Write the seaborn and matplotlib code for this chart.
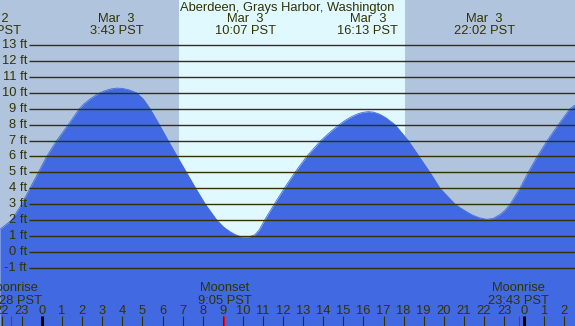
import matplotlib
matplotlib.use('Agg')
import matplotlib.pyplot as plt
import seaborn as sns
import pandas as pd

# tide height (ft), hours from midnight Mar 3
hours = [-2.09, -1.51, -1.01, -0.60, -0.18, 0.23, 0.73, 1.31, 1.86, 2.10,
         2.40, 2.70, 2.89, 3.10, 3.40, 3.72, 4.00, 4.30, 4.50, 4.71,
         5.05, 5.38, 5.84, 6.28, 6.73, 7.19, 7.65, 8.13, 8.70, 9.05,
         9.36, 9.60, 9.85, 10.10, 10.35, 10.60, 10.82, 11.08, 11.56, 12.06,
         12.59, 13.17, 13.88, 14.40, 14.80, 15.08, 15.40, 15.75, 16.00, 16.24,
         16.50, 16.80, 17.10, 17.57, 18.23, 18.77, 19.31, 19.81, 20.56, 20.81,
         21.10, 21.40, 21.75, 22.13, 22.45, 22.80, 23.05, 23.30, 23.79, 24.20,
         24.65, 25.15, 25.70, 26.28, 26.53]
tide_ft = [1.42, 2.0, 3.0, 4.0, 5.0, 6.0, 7.0, 8.0, 9.0, 9.32,
           9.62, 9.87, 10.0, 10.12, 10.24, 10.3, 10.28, 10.2, 10.11, 10.0,
           9.6, 9.0, 8.0, 7.0, 6.0, 5.0, 4.0, 3.0, 2.0, 1.55,
           1.27, 1.1, 0.97, 0.92, 0.96, 1.08, 1.4, 2.0, 3.0, 4.0,
           5.0, 6.0, 7.0, 7.6, 8.0, 8.26, 8.5, 8.7, 8.78, 8.82,
           8.79, 8.66, 8.45, 8.0, 7.0, 6.0, 5.0, 4.0, 3.0, 2.78,
           2.55, 2.33, 2.15, 2.05, 2.1, 2.35, 2.62, 3.0, 4.0, 5.0,
           6.0, 7.0, 8.0, 9.0, 9.24]

extreme_hours = [-2.58, 3.72, 10.12, 16.22, 22.03]
extreme_dates = ['Mar  2', 'Mar  3', 'Mar  3', 'Mar  3', 'Mar  3']
extreme_times = ['21:25 PST', '3:43 PST', '10:07 PST', '16:13 PST', '22:02 PST']

moon_hours = [-1.53, 9.08, 23.72]
moon_events = ['Moonrise', 'Moonset', 'Moonrise']
moon_times = ['22:28 PST', '9:05 PST', '23:43 PST']

sunrise_hour = 6.82
sunset_hour = 18.07

ft_levels = list(range(-1, 14))
hour_ticks = list(range(-2, 27))

title = 'Aberdeen, Grays Harbor, Washington'

W, H = 575, 326
x_min, x_max = -2.09, 26.53
y_min, y_max = -4.66, 15.84

night_color = '#b0c4de'
day_color = '#e0f8ff'
water_color = '#4169e1'
ink = '#333300'
fs = 9.3

sns.set_style('white')
plt.rcParams['font.family'] = ['Liberation Sans', 'DejaVu Sans']

df = pd.DataFrame({'hour': hours, 'ft': tide_ft})

fig = plt.figure(figsize=(W / 100, H / 100), dpi=100)
ax = fig.add_axes([0, 0, 1, 1])
ax.set_facecolor(night_color)
ax.axvspan(sunrise_hour, sunset_hour, color=day_color, lw=0, zorder=0)

ax.fill_between(df['hour'], df['ft'], y_min, color=water_color, lw=0, zorder=1)
sns.lineplot(data=df, x='hour', y='ft', color=water_color, lw=0.6, ax=ax, zorder=2)

# horizontal ft lines + labels
x_line_start = x_min + 29 / W * (x_max - x_min)
ax.hlines(ft_levels, x_line_start, x_max, color=ink, lw=1.0, zorder=3)
for lev in ft_levels:
    ax.text(27 / W, lev, f'{lev} ft', transform=ax.get_yaxis_transform(),
            ha='right', va='center', fontsize=fs, color=ink, zorder=4)

def fy(ypix):
    return 1 - ypix / H

xt = ax.get_xaxis_transform()
ax.text(0.5, fy(7.5), title, transform=ax.transAxes, ha='center', va='center',
        fontsize=fs, color=ink)
for h, d, t in zip(extreme_hours, extreme_dates, extreme_times):
    ax.text(h, fy(19.5), d, transform=xt, ha='center', va='center', fontsize=fs, color=ink)
    ax.text(h, fy(31.5), t, transform=xt, ha='center', va='center', fontsize=fs, color=ink)

for h, e, t in zip(moon_hours, moon_events, moon_times):
    ax.text(h, fy(288), e, transform=xt, ha='center', va='center', fontsize=fs, color=ink)
    ax.text(h, fy(300.5), t, transform=xt, ha='center', va='center', fontsize=fs, color=ink)

# hour ticks along the bottom
for h in hour_ticks:
    ax.text(h, fy(311), str(h % 24), transform=xt, ha='center', va='center',
            fontsize=fs, color=ink)
    if h % 24 == 0:
        ax.vlines(h, 0, 10 / H, transform=xt, color='black', lw=2.2, zorder=5)
    else:
        ax.vlines(h, 0, 10 / H, transform=xt, color=ink, lw=0.8, zorder=5)
ax.vlines(moon_hours, 0, 10 / H, transform=xt, color='red', lw=0.8, zorder=6)

ax.set_xlim(x_min, x_max)
ax.set_ylim(y_min, y_max)
ax.set(xlabel='', ylabel='', xticks=[], yticks=[])
for s in ax.spines.values():
    s.set_visible(False)

fig.savefig('out.png', dpi=100)
